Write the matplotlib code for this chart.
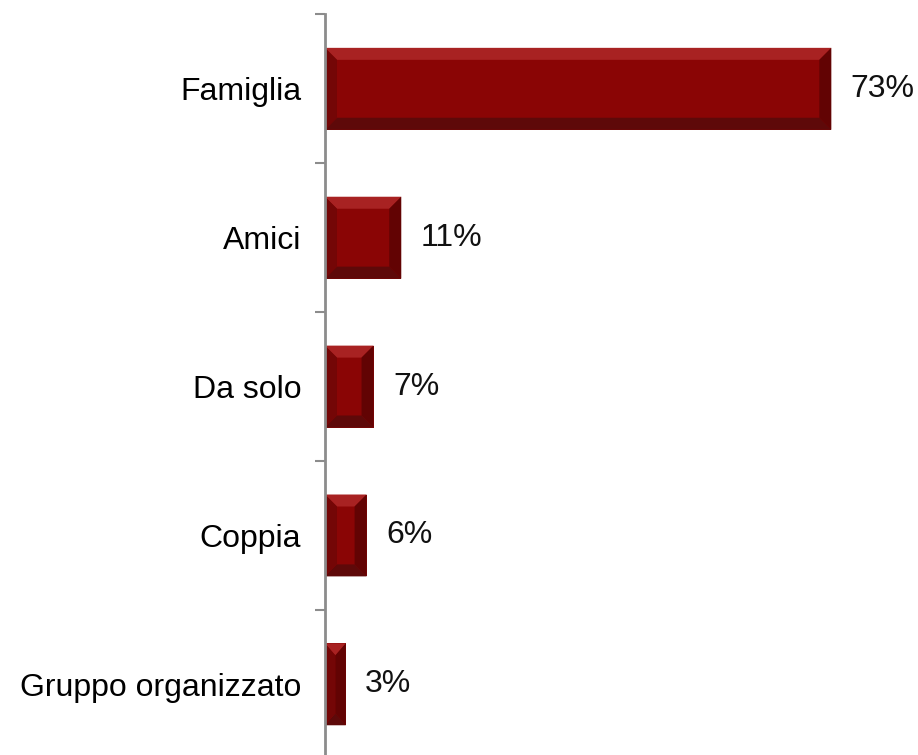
import matplotlib
matplotlib.use('Agg')
import matplotlib.pyplot as plt
from matplotlib.patches import Polygon
from matplotlib.ticker import FixedLocator, NullLocator

plt.rcParams['font.family'] = ['Liberation Sans', 'DejaVu Sans']

categories = ['Famiglia', 'Amici', 'Da solo', 'Coppia', 'Gruppo organizzato']
values = [73, 11, 7, 6, 3]

fig = plt.figure(figsize=(9.18, 7.55), dpi=100)
ax = fig.add_axes([0.354, -0.005, 0.64, 0.986])

ypos = list(range(len(categories)))
bar_h = 0.55
face = '#8a0505'
ax.barh(ypos, values, height=bar_h, color=face, edgecolor='none', zorder=2)

ax.set_xlim(0, 84.7)
ax.set_ylim(len(categories) - 0.5, -0.5)

# bevel size in data units, from a fixed size in pixels
fig.canvas.draw()
inv = ax.transData.inverted()
px_x = inv.transform((12, 0))[0] - inv.transform((0, 0))[0]
px_y = abs(inv.transform((0, 12))[1] - inv.transform((0, 0))[1])

for y, v in zip(ypos, values):
    x0, x1 = 0, v
    top, bot = y - bar_h / 2, y + bar_h / 2
    bx = min(px_x, v / 2)
    by = px_y
    ix0, ix1 = x0 + bx, x1 - bx
    it, ib = top + by, bot - by
    sides = [
        ([(x0, top), (x1, top), (ix1, it), (ix0, it)], '#a82222'),
        ([(x0, bot), (x1, bot), (ix1, ib), (ix0, ib)], '#5e0909'),
        ([(x0, top), (ix0, it), (ix0, ib), (x0, bot)], '#740606'),
        ([(x1, top), (ix1, it), (ix1, ib), (x1, bot)], '#620303'),
    ]
    for pts, c in sides:
        ax.add_patch(Polygon(pts, closed=True, facecolor=c, edgecolor='none', zorder=3))
    ax.text(v + 2.8, y, f'{v}%', va='center', ha='left', fontsize=23, color='#111111')

ax.set_yticks(ypos)
ax.set_yticklabels(categories, fontsize=23)
ax.tick_params(axis='y', which='major', length=0, pad=17)
ax.yaxis.set_minor_locator(FixedLocator([i - 0.5 for i in range(len(categories) + 1)]))
ax.tick_params(axis='y', which='minor', length=7, width=1.5, color='#8c8c8c', direction='out')
ax.xaxis.set_major_locator(NullLocator())

for s in ['top', 'right', 'bottom']:
    ax.spines[s].set_visible(False)
ax.spines['left'].set_color('#8c8c8c')
ax.spines['left'].set_linewidth(2)
ax.spines['left'].set_zorder(4)

fig.savefig('out.png', dpi=100)
